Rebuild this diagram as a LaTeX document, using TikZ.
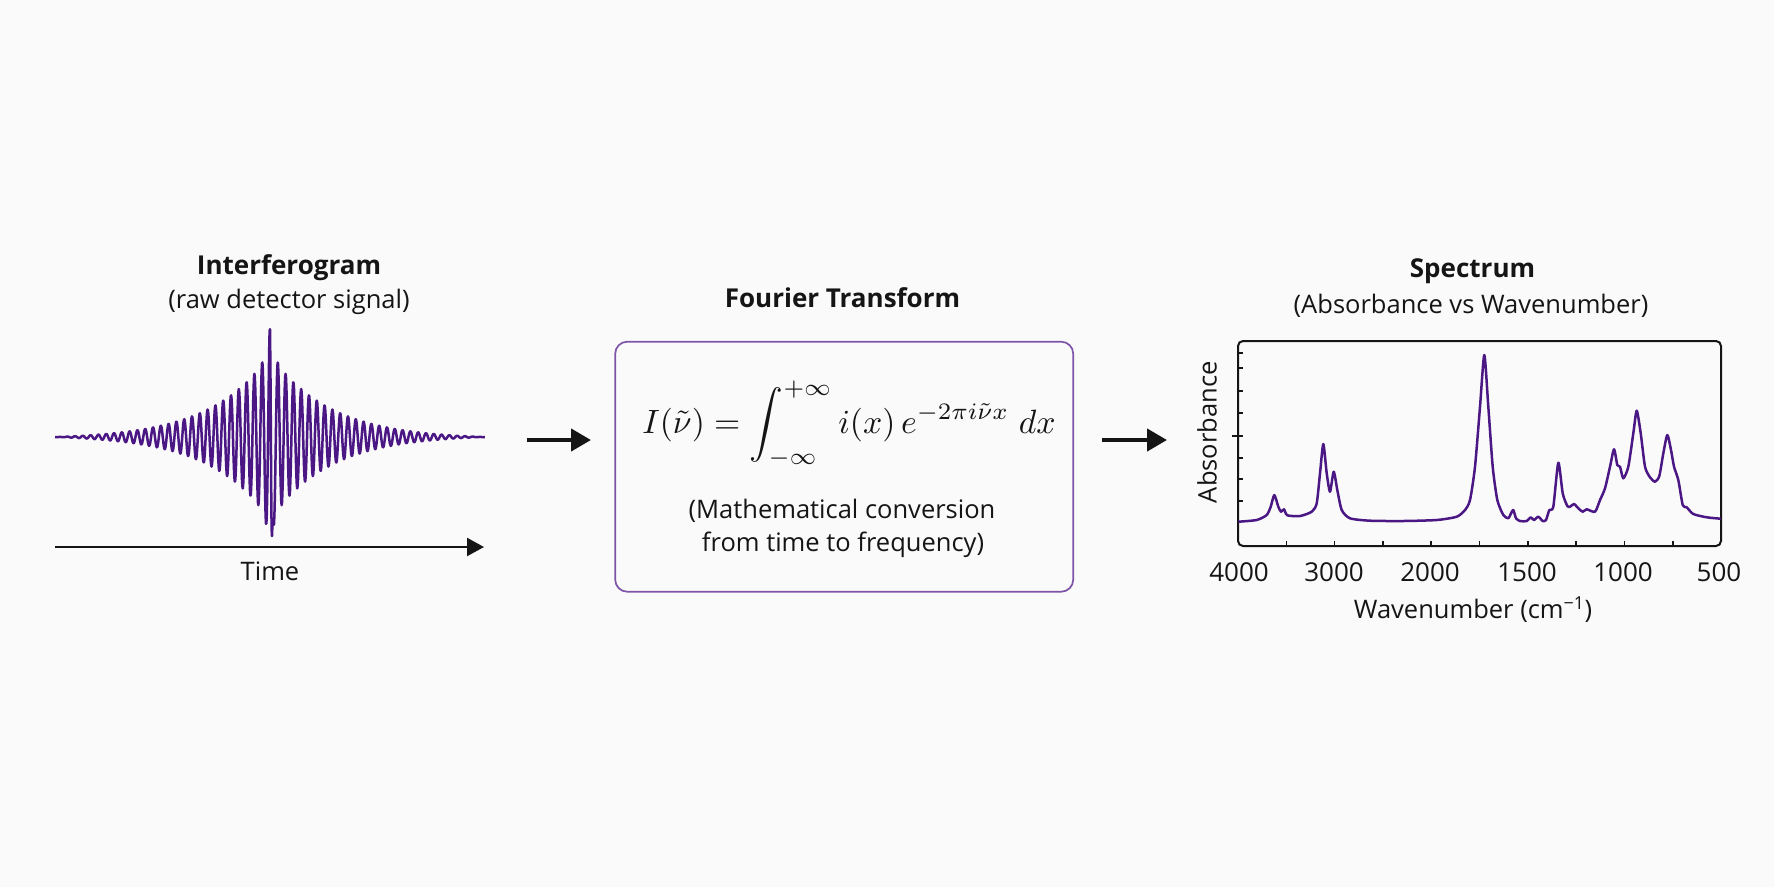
\documentclass[tikz,border=0pt]{standalone}
\usepackage{amsmath}
\usepackage{graphicx}
\usepackage[no-math]{fontspec}
\setmainfont{Open Sans}
\usetikzlibrary{arrows.meta,positioning}
\definecolor{paper}{HTML}{FAFAFA}
\definecolor{wave}{HTML}{4A1784}
\definecolor{boxline}{HTML}{7D55A8}
\definecolor{ink}{HTML}{151515}

\begin{document}
\begin{tikzpicture}[x=1pt,y=-1pt,text=ink]
  \tikzset{heading/.style={font=\fontsize{26}{31}\selectfont\bfseries,anchor=base},
    note/.style={font=\fontsize{25.5}{33}\selectfont,anchor=base},
    trace/.style={draw=wave,line width=2.5pt,line join=round},
    flow/.style={-{Triangle[length=20pt,width=22pt]},line width=4.3pt,draw=ink},
    ticknum/.style={font=\fontsize{26}{30}\selectfont,anchor=base},
    tickmark/.style={draw=ink,line width=1.6pt}}
  \fill[paper] (0,0) rectangle (1774,887);

  % interferogram
  \node[heading] (igram) at (289,274.3) {Interferogram};
  \node[note] (igramsub) at (289,308.3) {(raw detector signal)};
  \draw[trace] plot[domain=-215:215,samples=1075]
    ({270+\x},{437-(max(0,85*exp(-abs(\x)/60)-2.5)+38*exp(-min(abs(\x),27)/3))*cos(\x/7.8*360)
      +122*exp(0-(min(abs(\x-1.5),5))^2)});
  \coordinate (tstart) at (55,547);
  \coordinate (tend) at (484,547);
  \draw[-{Triangle[length=17pt,width=18pt]},line width=2.3pt,draw=ink] (tstart) -- (tend);
  \node[note] (time) at (270,580) {Time};

  % transform
  \node[heading] (fthead) at (842.5,307.3) {Fourier Transform};
  \node[draw=boxline,line width=1.7pt,rounded corners=12pt,minimum width=458pt,minimum height=250pt] (ftbox) at (844.2,466.7) {};
  \node[anchor=base] (eqn) at (849,433.3) {\scalebox{3.37}{%
    $\displaystyle I(\tilde{\nu}) = \int_{-\infty}^{+\infty} i(x)\, e^{-2\pi i\tilde{\nu}x}\;dx$}};
  \node[note] (ftnote1) at (842,518.3) {(Mathematical conversion};
  \node[note] (ftnote2) at (843,551.7) {from time to frequency)};

  \coordinate (a1) at (527,440);
  \coordinate (b1) at (591,440);
  \coordinate (a2) at (1102,440);
  \coordinate (b2) at (1167,440);
  \draw[flow] (a1) -- (b1);
  \draw[flow] (a2) -- (b2);

  % spectrum
  \node[heading] (spechead) at (1472.5,277.3) {Spectrum};
  \node[note] (specsub) at (1471,313.3) {(Absorbance vs Wavenumber)};
  \node[draw=ink,line width=2pt,rounded corners=5pt,minimum width=483pt,minimum height=205pt,inner sep=0pt] (spec) at (1479.5,443.5) {};
  \foreach \ty in {353,368,391,413,458,479,501}
    \draw[tickmark] (1238,\ty) -- ++(5,0);
  \draw[tickmark] (1232,436) -- ++(11,0);
  \foreach \k in {1,...,9}
    \draw[tickmark] ({1238+48.3*\k},546) -- ++(0,-5);
  \foreach \lab/\tx in {4000/1239,3000/1334,2000/1430,1500/1527,1000/1623,500/1719}
    \node[ticknum] at (\tx,581.7) {\lab};
  \node[note,rotate=90] (ylab) at (1216.7,432.3) {Absorbance};
  \node[note] (xlab) at (1473,618.3) {Wavenumber (cm\textsuperscript{−1})};
  \draw[trace] plot[smooth,tension=0.4] coordinates {
    (1238.3,521.7) (1256.7,520) (1266.7,515) (1270.7,506.7) (1274.3,495)
    (1278.3,506.7) (1281,511.7) (1284,509.3) (1287.3,515.3) (1300,516)
    (1311.7,511.7) (1316.7,503.3) (1320,473.3) (1323.3,444) (1326.7,473.3)
    (1330,491.7) (1333.7,471.7) (1337.3,490) (1341.7,510) (1350,518.3)
    (1370,520.7) (1403.3,521) (1436.7,520) (1456.7,516.7) (1465,510)
    (1470,500) (1475,466.7) (1480,406.7) (1484.3,355) (1488.3,406.7)
    (1492.7,466.7) (1497.3,500) (1503.3,515) (1508.3,518.3) (1510.7,514)
    (1513.3,510) (1516,518.3) (1520,521) (1526.7,521) (1530.7,517.3)
    (1534,520) (1538.3,516.7) (1542.7,521) (1546,520) (1549.3,510)
    (1553.3,506.7) (1558.3,462.7) (1562.7,493.3) (1567.3,506) (1570,506.7)
    (1574,504) (1578.3,508.3) (1582.7,511.7) (1586.7,509.3) (1595,511.7)
    (1600,500) (1605,488.3) (1610,466.7) (1614,449.3) (1617.3,465)
    (1620,466.7) (1623.3,478.3) (1628.3,466.7) (1633.3,433.3) (1636.7,410.7)
    (1640.7,433.3) (1645,466.7) (1650,477.3) (1655,481.7) (1659.3,476)
    (1663.3,453.3) (1667.3,435) (1671,450) (1674,466.7) (1678.3,480)
    (1682.7,505) (1686.7,507.3) (1693.3,514) (1706.7,517.3) (1720.7,518.7)};
\end{tikzpicture}
\end{document}
